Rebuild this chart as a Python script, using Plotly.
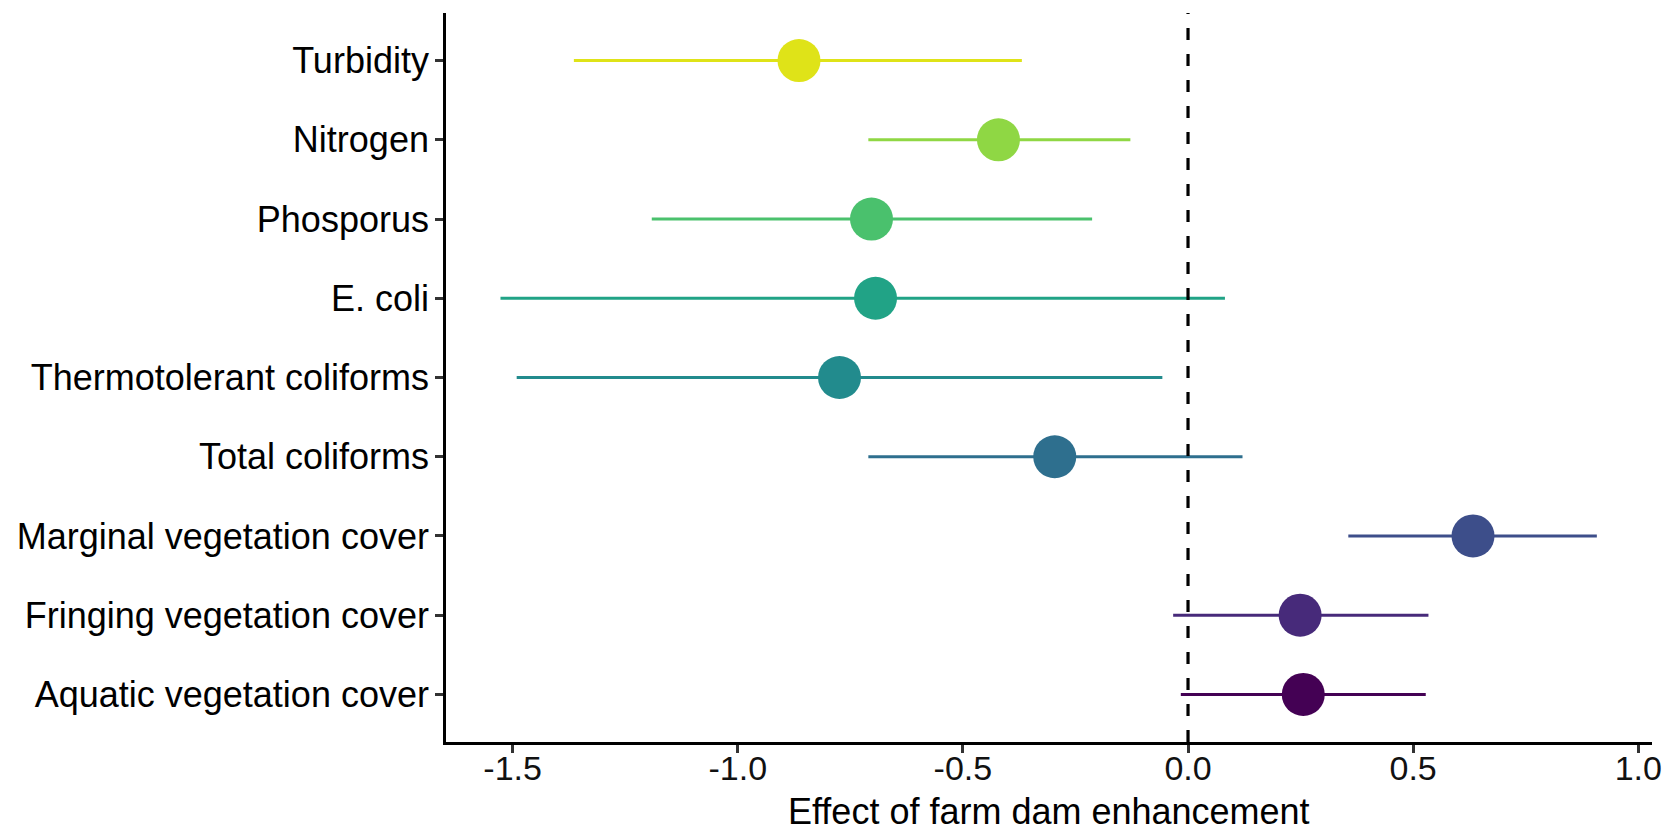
import plotly.graph_objects as go

categories = ["Aquatic vegetation cover", "Fringing vegetation cover", "Marginal vegetation cover",
              "Total coliforms", "Thermotolerant coliforms", "E. coli", "Phosporus", "Nitrogen", "Turbidity"]
estimate = [0.256, 0.249, 0.633, -0.296, -0.774, -0.694, -0.703, -0.421, -0.864]
lower = [-0.016, -0.033, 0.356, -0.710, -1.491, -1.527, -1.191, -0.710, -1.364]
upper = [0.528, 0.534, 0.908, 0.121, -0.057, 0.082, -0.213, -0.128, -0.369]
colors = ["#440154", "#472A7A", "#3D4E8A", "#2E6F8E", "#228B8D", "#21A386", "#4AC16D", "#8FD744", "#DFE318"]
x_ticks = [-1.5, -1.0, -0.5, 0.0, 0.5, 1.0]
x_tick_labels = ["-1.5", "-1.0", "-0.5", "0.0", "0.5", "1.0"]
x_title = "Effect of farm dam enhancement"

FONT = "Liberation Sans, Arial, sans-serif"

fig = go.Figure()
for cat, est, lo, hi, col in zip(categories, estimate, lower, upper, colors):
    fig.add_trace(go.Scatter(
        x=[est], y=[cat], mode="markers",
        marker=dict(size=43, color=col, line=dict(width=0)),
        error_x=dict(type="data", symmetric=False, array=[hi - est], arrayminus=[est - lo],
                     color=col, thickness=3, width=0),
        showlegend=False,
    ))

fig.add_shape(type="line", xref="x", yref="paper", x0=0, x1=0, y0=0, y1=1,
              line=dict(color="black", width=3.2, dash="12px,14px"), layer="above")

fig.add_annotation(text=x_title, xref="paper", yref="paper", x=0.5, y=-0.096, yanchor="middle",
                   xanchor="center", showarrow=False, font=dict(size=36, family=FONT, color="black"))

fig.update_layout(
    width=1668, height=832,
    margin=dict(l=446, r=16, t=13, b=90),
    plot_bgcolor="white", paper_bgcolor="white",
    font=dict(family=FONT, color="black"),
    xaxis=dict(
        range=[-1.648, 1.0305], tickvals=x_ticks, ticktext=x_tick_labels,
        showline=True, linecolor="black", linewidth=2.7, showgrid=False, zeroline=False,
        ticks="outside", ticklen=8, tickwidth=2.5, tickcolor="#333333",
        tickfont=dict(size=34, color="#111111", family=FONT),
        ticklabelstandoff=-14, automargin=False,
    ),
    yaxis=dict(
        type="category", categoryorder="array", categoryarray=categories,
        range=[-0.6, 8.6],
        showline=True, linecolor="black", linewidth=2.7, showgrid=False, zeroline=False,
        ticks="outside", ticklen=8, tickwidth=2.5, tickcolor="#333333",
        tickfont=dict(size=36, color="black", family=FONT),
        ticklabelstandoff=-1, automargin=False,
    ),
)

fig.write_html("out.html")
